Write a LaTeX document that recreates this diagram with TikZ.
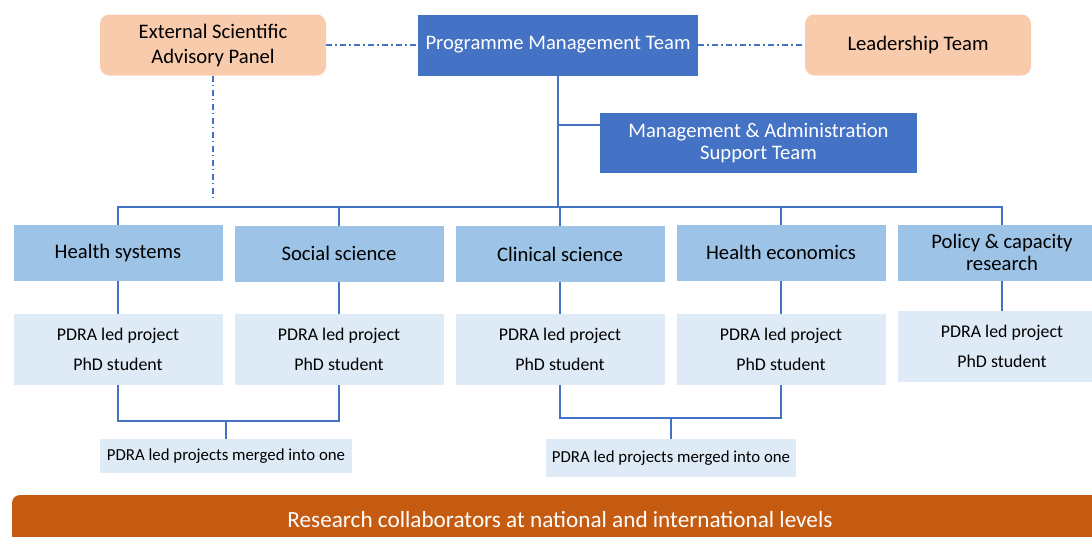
\documentclass[tikz,border=0pt]{standalone}
\usepackage{fontspec}
\setmainfont{Carlito}
\usetikzlibrary{positioning}

\definecolor{pmtblue}{HTML}{4472C4}
\definecolor{peach}{HTML}{F8CBAD}
\definecolor{themeblue}{HTML}{9DC3E6}
\definecolor{paleblue}{HTML}{DEEBF7}
\definecolor{rust}{HTML}{C55A11}

\begin{document}
\begin{tikzpicture}[x=0.75pt, y=-0.75pt,
  box/.style = {inner sep=0pt, outer sep=0pt, align=center},
  board/.style = {box, fill=pmtblue, text=white, font=\fontsize{15.5}{16.5}\selectfont},
  panel/.style = {box, fill=peach, rounded corners=7pt, minimum width=169.5pt, minimum height=45.75pt, font=\fontsize{15.5}{18.75}\selectfont},
  theme/.style = {box, fill=themeblue, minimum width=156.75pt, minimum height=42pt, font=\fontsize{15.5}{16.5}\selectfont},
  project/.style = {box, fill=paleblue, minimum width=156.75pt, minimum height=53.25pt, font=\fontsize{13.4}{22.5}\selectfont},
  merged/.style = {box, fill=paleblue, minimum height=25.5pt, font=\fontsize{12.6}{13}\selectfont},
  link/.style = {pmtblue, line width=1.3pt},
  liaison/.style = {pmtblue, line width=1pt, dash pattern=on 4.5pt off 2.5pt on 1pt off 2.5pt}]

\clip (0,0) rectangle (1092,536);
\useasboundingbox (0,0) rectangle (1092,536);

% Top level
\node[panel] (esap) at (213,45) {External Scientific\\Advisory Panel};
\node[board, minimum width=210pt, minimum height=45.75pt] (pmt) at (558,45) {Programme Management Team};
\node[panel] (lead) at (918,45) {Leadership Team};
\node[board, minimum width=237.75pt, minimum height=45pt] (mat) at (758.5,143) {Management \& Administration\\Support Team};

% Themes
\node[theme] (hs) at (118,253) {Health systems};
\node[theme] (ss) at (339,253.5) {Social science};
\node[theme] (cs) at (560,254) {Clinical science};
\node[theme] (he) at (781,252.5) {Health economics};
\node[theme] (pc) at (1002,252.5) {Policy \& capacity\\research};

% Projects
\node[project] (hsp) at (118,349.5) {PDRA led project\\PhD student};
\node[project] (ssp) at (339,349) {PDRA led project\\PhD student};
\node[project] (csp) at (560,349.5) {PDRA led project\\PhD student};
\node[project] (hep) at (781,349.5) {PDRA led project\\PhD student};
\node[project] (pcp) at (1002,346.5) {PDRA led project\\PhD student};

\node[merged, minimum width=189pt] (mergeA) at (226,456) {PDRA led projects merged into one};
\node[merged, minimum width=187.5pt, minimum height=28.5pt] (mergeB) at (671,458) {PDRA led projects merged into one};

% Collaborators banner
\fill[rust, rounded corners=6pt] (12,570) -- (12,495) -- (1108,495) -- (1108,570);
\node[box, text=white, font=\fontsize{17.4}{20}\selectfont] (collab) at (560,520) {Research collaborators at national and international levels};

% Liaison lines
\coordinate (esapend) at (213,200);
\draw[liaison] (esap.east) -- (pmt.west);
\draw[liaison] (pmt.east) -- (lead.west);
\draw[liaison] (esap.south) -- (esapend);

% Management lines
\coordinate (bus) at (558,207);
\coordinate (matjoin) at (558,125);
\draw[link] (pmt.south) -- (bus);
\draw[link] (matjoin) -- (matjoin -| mat.west);
\draw[link] (hs.north) |- (pc.north |- bus) -- (pc.north);
\draw[link] (ss.north) -- (ss.north |- bus);
\draw[link] (cs.north) -- (cs.north |- bus);
\draw[link] (he.north) -- (he.north |- bus);

% Theme to project
\draw[link] (hs) -- (hsp);
\draw[link] (ss) -- (ssp);
\draw[link] (cs) -- (csp);
\draw[link] (he) -- (hep);
\draw[link] (pc) -- (pcp);

% Merges
\coordinate (joinA) at (226,421);
\coordinate (joinB) at (671,418);
\draw[link] (hsp.south) |- (joinA) -| (ssp.south);
\draw[link] (joinA) -- (mergeA);
\draw[link] (csp.south) |- (joinB) -| (hep.south);
\draw[link] (joinB) -- (mergeB);

\end{tikzpicture}
\end{document}
